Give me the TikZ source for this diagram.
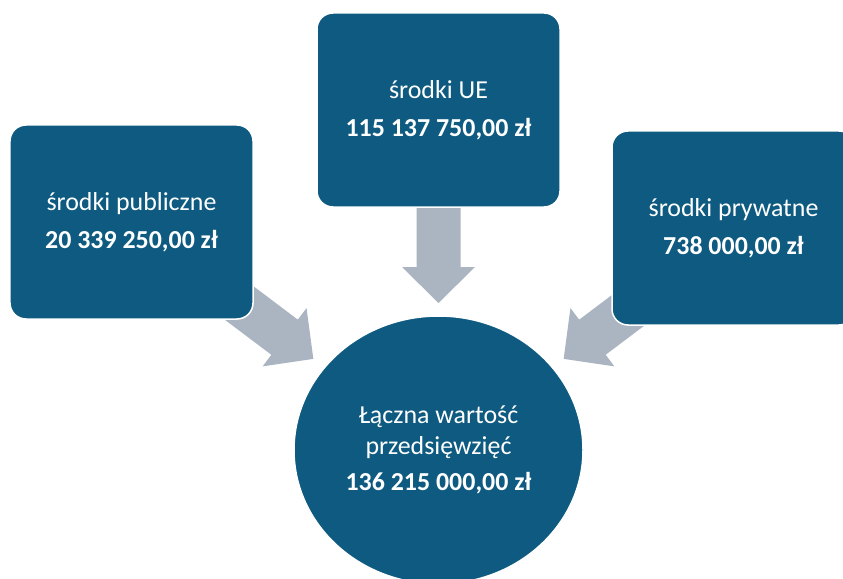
\documentclass[tikz,border=0pt]{standalone}
\usepackage{fontspec}
\setmainfont{Carlito}
\usetikzlibrary{shapes.geometric}
\definecolor{boxblue}{RGB}{14,90,128}
\definecolor{arrowgray}{RGB}{171,181,194}
\tikzset{
  fundbox/.style={draw=white,line width=1.5bp,fill=boxblue,rounded corners=16bp,
    minimum width=243bp,minimum height=194bp,inner sep=0pt,text=white,align=center,
    font=\fontsize{26}{31}\selectfont},
  totalnode/.style={ellipse,draw=white,line width=1.5bp,fill=boxblue,
    minimum width=289bp,minimum height=268bp,inner sep=0pt,text=white,align=center,
    font=\fontsize{26}{31}\selectfont},
  flowarrow/.style={fill=arrowgray}
}
\newcommand{\blockarrow}[2]{\fill[flowarrow,shift={#1},rotate=#2]
  (-48,-22) -- (12,-22) -- (12,-36.5) -- (48,0) -- (12,36.5) -- (12,22) -- (-48,22) -- cycle;}
\begin{document}
\begin{tikzpicture}[x=1bp,y=-1bp]
                        \useasboundingbox (0,0) rectangle (843,579);
                        \blockarrow{(438.5,255)}{-90}
                        \blockarrow{(275,330)}{-37}
                        \blockarrow{(602,330)}{-143}
                        \node[fundbox] (ue) at (438.5,110) {środki UE\\[7bp]\textbf{115 137 750,00 zł}};
                        \node[fundbox] (pub) at (131.5,222) {środki publiczne\\[7bp]\textbf{20 339 250,00 zł}};
                        \node[fundbox] (priv) at (733.5,228) {środki prywatne\\[7bp]\textbf{738 000,00 zł}};
                        \node[totalnode] (total) at (438.5,450) {Łączna wartość\\przedsięwzięć\\[6bp]\textbf{136 215 000,00 zł}};
                    \end{tikzpicture}
\end{document}
